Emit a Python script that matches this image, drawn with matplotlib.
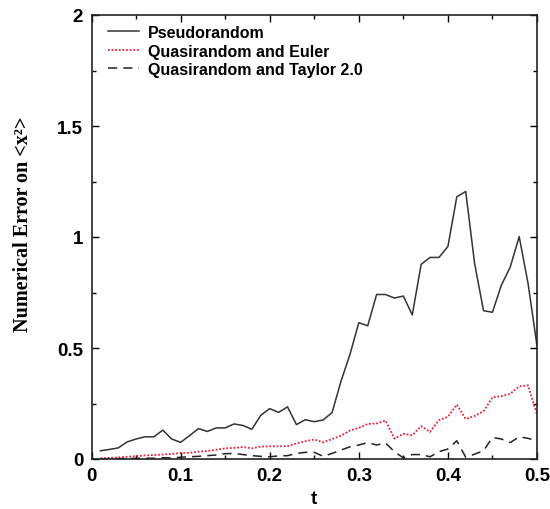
import matplotlib
matplotlib.use("Agg")
import matplotlib.pyplot as plt
import numpy as np
from matplotlib.ticker import MultipleLocator

t = [round(0.01 * i, 2) for i in range(1, 51)]

pseudo = [0.037, 0.043, 0.050, 0.077, 0.090, 0.100, 0.100, 0.130, 0.090, 0.075,
          0.105, 0.137, 0.124, 0.140, 0.140, 0.158, 0.151, 0.134, 0.197, 0.227,
          0.210, 0.235, 0.155, 0.177, 0.168, 0.176, 0.209, 0.350, 0.470, 0.614,
          0.600, 0.741, 0.741, 0.725, 0.734, 0.649, 0.877, 0.908, 0.908, 0.957,
          1.181, 1.205, 0.880, 0.668, 0.661, 0.783, 0.865, 1.002, 0.790, 0.510]

euler = [0.003, 0.005, 0.007, 0.010, 0.013, 0.016, 0.018, 0.020, 0.023, 0.027,
         0.028, 0.033, 0.036, 0.042, 0.048, 0.050, 0.054, 0.048, 0.056, 0.057,
         0.057, 0.058, 0.070, 0.080, 0.088, 0.075, 0.090, 0.105, 0.128, 0.140,
         0.158, 0.160, 0.173, 0.092, 0.113, 0.107, 0.148, 0.122, 0.175, 0.190,
         0.245, 0.180, 0.194, 0.215, 0.278, 0.283, 0.294, 0.327, 0.332, 0.200]

taylor = [0.001, 0.001, 0.002, 0.002, 0.003, 0.004, 0.003, 0.006, 0.005, 0.008,
          0.010, 0.012, 0.015, 0.018, 0.024, 0.025, 0.020, 0.015, 0.012, 0.010,
          0.014, 0.015, 0.025, 0.030, 0.030, 0.012, 0.025, 0.040, 0.055, 0.063,
          0.074, 0.063, 0.072, 0.033, 0.005, 0.020, 0.020, 0.010, 0.033, 0.045,
          0.082, 0.008, 0.022, 0.037, 0.097, 0.090, 0.074, 0.100, 0.093, 0.082]

labels = ["Pseudorandom", "Quasirandom and Euler", "Quasirandom and Taylor 2.0"]
xticks = [0, 0.1, 0.2, 0.3, 0.4, 0.5]
xticklabels = ["0", "0.1", "0.2", "0.3", "0.4", "0.5"]
yticks = [0, 0.5, 1, 1.5, 2]
yticklabels = ["0", "0.5", "1", "1.5", "2"]

sans = "Liberation Sans"
serif = "Liberation Serif"

fig = plt.figure(figsize=(5.5, 5.1), dpi=100)
W, H = 550, 510
l, r, top, bot = 91.5, 537, 16, 460
ax = fig.add_axes([l / W, 1 - bot / H, (r - l) / W, (bot - top) / H])

ax.plot(t, pseudo, color="#333333", lw=1.1, ls="-", label=labels[0])
ax.plot(t, euler, color="#e8203a", lw=1.3, ls=(0, (1, 1)), label=labels[1])
ax.plot(t, taylor, color="#222222", lw=1.1, ls=(0, (6, 4)), label=labels[2])

ax.set_xlim(0, 0.5)
ax.set_ylim(0, 2)
ax.set_xticks(xticks)
ax.set_xticklabels(xticklabels)
ax.set_yticks(yticks)
ax.set_yticklabels(yticklabels)
ax.xaxis.set_minor_locator(MultipleLocator(0.05))
ax.yaxis.set_minor_locator(MultipleLocator(0.25))
ax.tick_params(which="both", direction="in", top=True, right=True)
ax.tick_params(which="major", length=5, width=1, pad=6)
ax.tick_params(which="minor", length=3, width=1)
for lab in ax.get_xticklabels() + ax.get_yticklabels():
    lab.set_fontfamily(sans)
    lab.set_fontweight("bold")
    lab.set_fontsize(13.5)
for s in ax.spines.values():
    s.set_linewidth(1.2)
    s.set_color("#222222")

ax.set_xlabel("t", fontfamily=sans, fontweight="bold", fontsize=13.5, labelpad=4)
ax.set_ylabel("Numerical Error on <x\u00b2>", fontfamily=serif, fontweight="bold",
              fontsize=14.5)
ax.yaxis.set_label_coords(-(l - 33) / (r - l), (bot - 224) / (bot - top))

leg = ax.legend(loc="upper left", bbox_to_anchor=((108 - l) / (r - l), 1 - 10 / (bot - top)),
                frameon=False, borderpad=0, borderaxespad=0, handlelength=1.95,
                handletextpad=0.55, labelspacing=0.22,
                prop={"family": sans, "weight": "bold", "size": 11.5})

fig.savefig("out.png", dpi=100)
